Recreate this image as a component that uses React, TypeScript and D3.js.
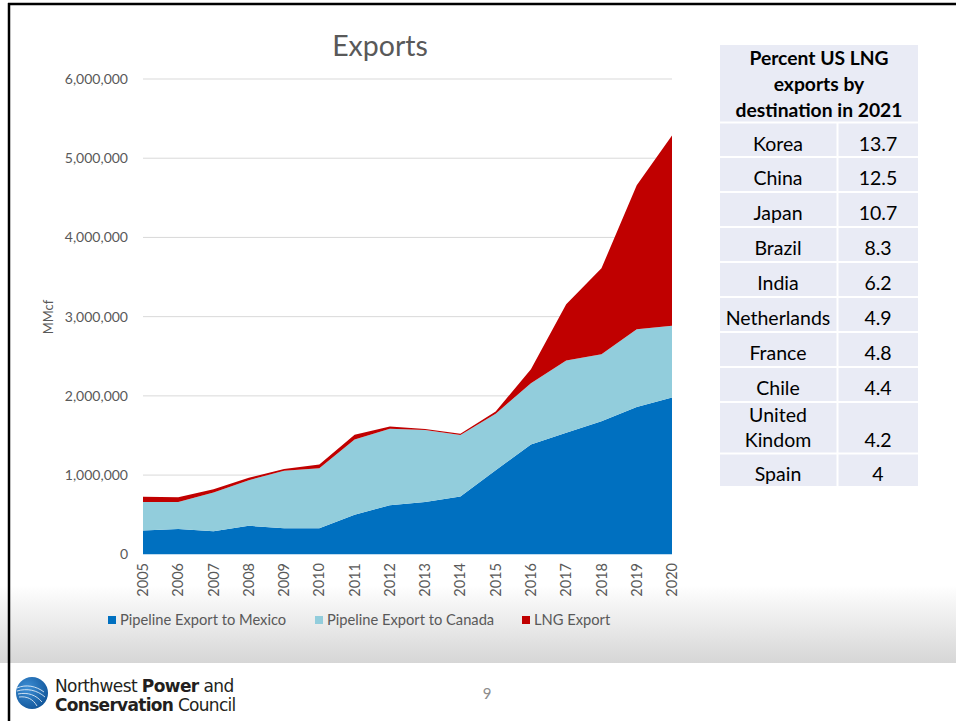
import React from "react";
import * as d3 from "d3";

const years = [2005, 2006, 2007, 2008, 2009, 2010, 2011, 2012, 2013, 2014, 2015, 2016, 2017, 2018, 2019, 2020];
const mexico = [300000, 320000, 290000, 360000, 330000, 330000, 500000, 620000, 660000, 730000, 1060000, 1385000, 1535000, 1680000, 1860000, 1980000];
const canada = [360000, 340000, 490000, 576000, 725000, 755000, 950000, 965000, 910000, 775000, 715000, 775000, 910000, 845000, 980000, 906000];
const lng = [67000, 60000, 42000, 30000, 21000, 50000, 60000, 28000, 13000, 16000, 28000, 175000, 712000, 1085000, 1820000, 2400000];
const yTicks = [0, 1000000, 2000000, 3000000, 4000000, 5000000, 6000000];
const seriesNames = ["Pipeline Export to Mexico", "Pipeline Export to Canada", "LNG Export"];
const seriesColors = ["#0070C0", "#92CDDC", "#C00000"];

const headerLines = ["Percent US LNG", "exports by", "destination in 2021"];
const countries = ["Korea", "China", "Japan", "Brazil", "India", "Netherlands", "France", "Chile", "United Kindom", "Spain"];
const shares = ["13.7", "12.5", "10.7", "8.3", "6.2", "4.9", "4.8", "4.4", "4.2", "4"];

const FONT = "Lato, 'Open Sans', sans-serif";

export default function App() {
  const W = 956, H = 721;
  const x = d3.scalePoint<number>().domain(years).range([143, 672]);
  const y = d3.scaleLinear().domain([0, 6000000]).range([554.3, 79]);

  const rows = years.map((yr, i) => ({ year: yr, mexico: mexico[i], canada: canada[i], lng: lng[i] }));
  const keys = ["mexico", "canada", "lng"];
  const stacked = d3.stack<any>().keys(keys)(rows);
  const area = d3.area<any>()
    .x((d) => x(d.data.year) as number)
    .y0((d) => y(d[0]))
    .y1((d) => y(d[1]));

  const fmt = d3.format(",");

  // table geometry
  const tX0 = 720, tX1 = 918, tMid = 837.5;
  const headerTop = 45, headerBot = 121.5;
  const rowEdges = [122.5, 157, 192, 227, 262, 297, 332, 367, 402, 453.5, 487];

  const legendX = [108, 315, 522];

  return (
    <svg width={W} height={H} style={{ position: "absolute", left: 0, top: 0, display: "block" }} fontFamily={FONT}>
      <defs>
        <linearGradient id="band" x1="0" y1="0" x2="0" y2="1">
          <stop offset="0" stopColor="#ffffff" />
          <stop offset="1" stopColor="#d6d6d6" />
        </linearGradient>
        <radialGradient id="logo" cx="0.35" cy="0.35" r="0.8">
          <stop offset="0" stopColor="#3d8fd6" />
          <stop offset="1" stopColor="#0c4f93" />
        </radialGradient>
      </defs>
      <rect x={0} y={0} width={W} height={H} fill="#ffffff" />
      <rect x={0} y={585} width={W} height={78} fill="url(#band)" />

      {/* slide border */}
      <line x1={8} y1={4} x2={W} y2={4} stroke="#000" strokeWidth={2.5} />
      <line x1={9} y1={3} x2={9} y2={H} stroke="#000" strokeWidth={2.5} />

      {/* title */}
      <text x={380} y={56} textAnchor="middle" fontSize={28.5} fill="#595959">Exports</text>

      {/* gridlines */}
      {yTicks.slice(1).map((t) => (
        <line key={t} x1={143} x2={672} y1={y(t)} y2={y(t)} stroke="#d9d9d9" strokeWidth={1} />
      ))}

      {/* areas */}
      {stacked.map((s, i) => (
        <path key={s.key} d={area(s) as string} fill={seriesColors[i]} />
      ))}

      {/* y tick labels */}
      {yTicks.map((t) => (
        <text key={t} x={128} y={y(t)} dy="0.35em" textAnchor="end" fontSize={14} fill="#595959">{fmt(t)}</text>
      ))}

      {/* y axis title */}
      <text transform={`translate(53,317) rotate(-90)`} textAnchor="middle" fontSize={13} fill="#595959">MMcf</text>

      {/* x tick labels */}
      {years.map((yr) => (
        <text key={yr} transform={`translate(${x(yr)},563) rotate(-90)`} textAnchor="end" dy="0.35em" fontSize={14.5} fill="#595959">{yr}</text>
      ))}

      {/* legend */}
      {seriesNames.map((n, i) => (
        <g key={n}>
          <rect x={legendX[i]} y={616} width={8} height={8} fill={seriesColors[i]} />
          <text x={legendX[i] + 12} y={620} dy="0.35em" fontSize={14.7} fill="#595959">{n}</text>
        </g>
      ))}

      {/* table */}
      <rect x={tX0} y={headerTop} width={tX1 - tX0} height={headerBot - headerTop} fill="#E9EBF5" />
      {headerLines.map((l, i) => (
        <text key={l} x={(tX0 + tX1) / 2} y={58 + i * 26} dy="0.35em" textAnchor="middle" fontSize={19.3} fontWeight="bold" fill="#000">{l}</text>
      ))}
      {countries.map((c, i) => {
        const top = rowEdges[i] + 1, bot = rowEdges[i + 1] - 1;
        const mid = (top + bot) / 2;
        const parts = c === "United Kindom" ? ["United", "Kindom"] : [c];
        return (
          <g key={c}>
            <rect x={tX0} y={top} width={tMid - tX0 - 1} height={bot - top} fill="#E9EBF5" />
            <rect x={tMid + 1} y={top} width={tX1 - tMid - 1} height={bot - top} fill="#E9EBF5" />
            {parts.length === 1 ? (
              <text x={778} y={mid + 4} dy="0.35em" textAnchor="middle" fontSize={19.5} fill="#000">{c}</text>
            ) : (
              parts.map((p, j) => (
                <text key={p} x={778} y={mid - 12.5 + j * 25} dy="0.35em" textAnchor="middle" fontSize={19.5} fill="#000">{p}</text>
              ))
            )}
            <text x={878} y={parts.length === 1 ? mid + 4 : mid + 12.5} dy="0.35em" textAnchor="middle" fontSize={19.5} fill="#000">{shares[i]}</text>
          </g>
        );
      })}

      {/* footer logo */}
      <circle cx={32} cy={693} r={16} fill="url(#logo)" />
      <g fill="none" stroke="#ffffff" strokeWidth={0.9} opacity={0.85}>
        <path d="M17,688 C26,684 36,686 44,692" />
        <path d="M17,691 C27,688 37,690 45,697" />
        <path d="M18,694 C28,692 36,695 42,702" />
        <path d="M19,697 C27,696 33,699 37,706" />
      </g>
      <text x={55} y={692} fontSize={17} fill="#231f20" fontFamily="'DejaVu Sans', sans-serif" letterSpacing={-0.6}>
        Northwest <tspan fontWeight="bold">Power</tspan> and
      </text>
      <text x={55} y={711} fontSize={17} fill="#231f20" fontFamily="'DejaVu Sans', sans-serif" letterSpacing={-0.7}>
        <tspan fontWeight="bold">Conservation</tspan> Council
      </text>
      <text x={487} y={699} textAnchor="middle" fontSize={15} fill="#8c8c8c">9</text>
    </svg>
  );
}
